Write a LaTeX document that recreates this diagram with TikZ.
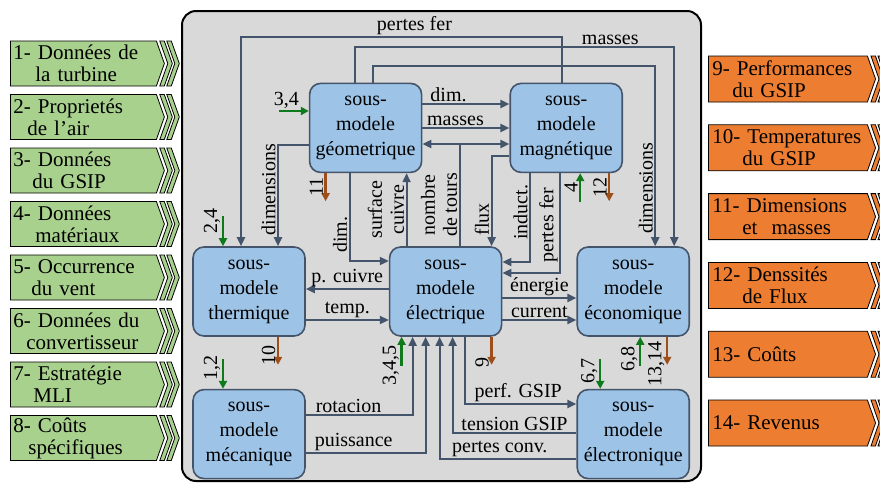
\documentclass[tikz,border=0pt]{standalone}
\usepackage{fontspec}
\setmainfont{Liberation Serif}
\usepackage{xcolor}
\usetikzlibrary{positioning,arrows.meta,shapes.symbols,calc}
\definecolor{lnk}{HTML}{44546A}
\definecolor{boxblue}{HTML}{9DC3E6}
\definecolor{bggray}{HTML}{D9D9D9}
\definecolor{ingreen}{HTML}{A9D18E}
\definecolor{outorange}{HTML}{ED7D31}
\definecolor{grn}{HTML}{0E7A1C}
\definecolor{brn}{HTML}{9E4E18}

\begin{document}
\begin{tikzpicture}[x=1pt,y=-1pt]
\tikzstyle{sm}=[draw=lnk, fill=boxblue, line width=1.6pt, rounded corners=11pt, minimum width=112pt, minimum height=89pt, inner sep=0pt, align=center, font=\fontsize{20}{25}\selectfont]
\tikzstyle{ar}=[draw=lnk, line width=2pt, -{Triangle[length=9pt,width=8pt]}]
\tikzstyle{dar}=[draw=lnk, line width=2pt, {Triangle[length=9pt,width=8pt]}-{Triangle[length=9pt,width=8pt]}]
\tikzstyle{ln}=[draw=lnk, line width=2pt]
\tikzstyle{arin}=[draw=grn, line width=2.4pt, -{Triangle[length=8pt,width=8pt]}]
\tikzstyle{arout}=[draw=brn, line width=2.4pt, -{Triangle[length=8pt,width=8pt]}]
\tikzstyle{hl}=[above, inner sep=1pt, font=\fontsize{20}{22}\selectfont]
\tikzstyle{vl}=[rotate=90, anchor=south, inner sep=1.5pt, align=center, font=\fontsize{20}{22}\selectfont]
\tikzstyle{inbox}=[signal, signal to=east, signal pointer angle=141, draw=black, line width=0.8pt, fill=ingreen, minimum height=45pt, text width=140pt, inner xsep=3pt, inner ysep=0pt, align=left, font=\fontsize{21}{22}\selectfont]
\tikzstyle{outbox}=[inbox, fill=outorange, minimum height=46pt, text width=151pt, inner xsep=4pt]

\useasboundingbox (0,0) rectangle (880,483);

\node[draw=black, line width=2pt, fill=bggray, rounded corners=14pt, minimum width=519pt, minimum height=470pt, inner sep=0pt, anchor=north west] (frame) at (181,10) {};

\foreach \i/\a/\b/\s in {1/{Données de}/{la turbine}/22, 2/{Proprietés}/{de l’air}/14, 3/{Données}/{du GSIP}/19, 4/{Données}/{matériaux}/22, 5/{Occurrence}/{du vent}/18, 6/{Données du}/{convertisseur}/13, 7/{Estratégie}/{MLI}/20, 8/{Coûts}/{spécifiques}/15}{
  \node[inbox, anchor=west] (in\i) at (10,{63.5+53.5*(\i-1)}) {\i- \a\\\hspace*{\s pt}\b};
  \foreach \o in {3,10}
    \filldraw[fill=ingreen, draw=black, line width=0.8pt] ([xshift=\o pt]in\i.east) ++(-8,-22.5) -- ++(4.5,0) -- ++(8,22.5) -- ++(-8,22.5) -- ++(-4.5,0) -- ++(8,-22.5) -- cycle;
}

\foreach \i/\txt in {9/{9- Performances\\\hspace*{20pt}du GSIP}, 10/{10- Temperatures\\\hspace*{30pt}du GSIP}, 11/{11- Dimensions\\\hspace*{30pt}et~ masses}, 12/{12- Denssités\\\hspace*{30pt}de Flux}, 13/{13- Coûts}, 14/{14- Revenus}}{
  \node[outbox, anchor=west] (out\i) at (708,{79+68.8*(\i-9)}) {\txt};
  \foreach \o in {3,10}
    \filldraw[fill=outorange, draw=black, line width=0.8pt] ([xshift=\o pt]out\i.east) ++(-8,-23) -- ++(4.5,0) -- ++(8,23) -- ++(-8,23) -- ++(-4.5,0) -- ++(8,-23) -- cycle;
}

\node[sm] (T) at (249,291.5) {sous-\\modele\\thermique};
\node[sm, right=83pt of T] (E) {sous-\\modele\\électrique};
\node[sm, right=74pt of E] (C) {sous-\\modele\\économique};
\node[sm, below=52pt of T] (K) {sous-\\modele\\mécanique};
\node[sm, below=52pt of C] (N) {sous-\\modele\\électronique};
\node[sm, above right=73pt and 3pt of T] (G) {sous-\\modele\\géometrique};
\node[sm, right=87pt of G] (M) {sous-\\modele\\magnétique};

\draw[ar] ([xshift=-4pt]M.north) -- ++(0,-46) -| node[hl, pos=0.23]{pertes fer} ([xshift=-8pt]T.north);
\draw[ar] ([xshift=-11pt]G.north) -- ++(0,-36) -| node[hl, pos=0.4]{masses} ([xshift=41pt]C.north);
\draw[ar] ([xshift=7pt]G.north) -- ++(0,-17) -| node[vl, pos=0.84]{dimensions} ([xshift=22pt]C.north);
\draw[ar] (G.west) ++(0,17.5) -| node[vl, pos=0.72]{dimensions} ([xshift=29pt]T.north);
\draw[ar] (G.east |- 0,104) -- node[hl, pos=0.3]{dim.} (M.west |- 0,104);
\draw[ar] (G.east |- 0,128) -- node[hl, pos=0.38]{masses} (M.west |- 0,128);
\draw[dar] (G.east |- 0,144) -- (M.west |- 0,144);
\draw[ln] ([xshift=14pt]E.north) -- node[vl, pos=0.4]{nombre\\de tours} ++(0,-103);
\draw[ar] ([xshift=-16pt]G.south) |- node[vl, pos=0.35]{dim.} (E.west |- 0,261);
\draw[ar] ([xshift=-39pt]E.north) -- node[vl, pos=0.5]{surface\\cuivre} ([xshift=41pt]G.south);
\draw[ar] (M.west) ++(0,28.5) -| node[vl, pos=0.85]{flux} ([xshift=46pt]E.north);
\draw[ar] ([xshift=-36pt]M.south) |- node[vl, pos=0.22]{induct.} (E.east |- 0,262);
\draw[ar] ([xshift=-6pt]M.south) |- node[vl, pos=0.26]{pertes fer} (E.east |- 0,273);

\draw[ar] (E.west |- 0,289) -- node[hl]{p. cuivre} (T.east |- 0,289);
\draw[ar] (T.east |- 0,320) -- node[hl]{temp.} (E.west |- 0,320);
\draw[ar] (E.east |- 0,298) -- node[hl]{énergie} (C.west |- 0,298);
\draw[ar] (E.east |- 0,320) -- node[hl]{current} (C.west |- 0,320);

\draw[ar] (K.east |- 0,415) -| node[hl, pos=0.2]{rotacion} ([xshift=-33pt]E.south);
\draw[ar] (K.east |- 0,453) -| node[hl, pos=0.2]{puissance} ([xshift=-20pt]E.south);
\draw[ar] (N.west |- 0,459) -| node[hl, pos=0.28]{pertes conv.} ([xshift=-6pt]E.south);
\draw[ar] (N.west |- 0,433) -| node[hl, pos=0.25]{tension GSIP} ([xshift=7pt]E.south);
\draw[ar] ([xshift=19pt]E.south) |- node[hl, pos=0.74]{perf. GSIP} (N.west |- 0,404);

\draw[arin] (G.west |- 0,111) ++(-30,0) -- node[hl, pos=0.25]{3,4} ++(30,0);
\foreach \nd/\dx/\p/\lb in {T/-26/0.15/{2,4}, K/-26/0.3/{1,2}, N/-33/0.4/{6,7}}
  \draw[arin] ([xshift=\dx pt]\nd.north) ++(0,-30) -- node[vl, pos=\p]{\lb} ++(0,30);
\foreach \nd/\dx/\p/\lb in {M/14/0.5/4, E/-44/0/{3,4,5}, C/7/0.24/{6,8}}
  \draw[arin] ([xshift=\dx pt]\nd.south) ++(0,29) -- node[vl, pos=\p]{\lb} ++(0,-29);
\foreach \nd/\dx/\p/\lb in {G/-40/0.5/11, M/43/0.5/12, T/29/0.65/10, E/46/0.93/9, C/34/0.97/{13,14}}
  \draw[arout] ([xshift=\dx pt]\nd.south) -- node[vl, pos=\p]{\lb} ++(0,28);
\end{tikzpicture}
\end{document}
